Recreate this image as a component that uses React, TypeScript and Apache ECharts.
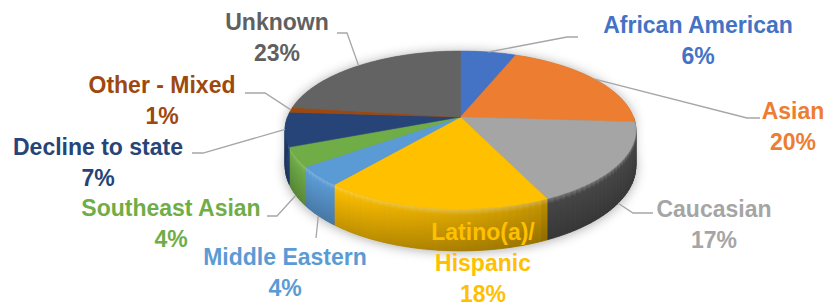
import React, { useEffect, useRef } from 'react';
import * as echarts from 'echarts';

// ---- data ----
const categories = [
  'African American',
  'Asian',
  'Caucasian',
  'Latino(a)/\nHispanic',
  'Middle Eastern',
  'Southeast Asian',
  'Decline to state',
  'Other - Mixed',
  'Unknown',
];
const values = [6, 20, 17, 18, 4, 4, 7, 1, 23];

// ---- styles ----
const colors = ['#4472C4', '#ED7D31', '#A5A5A5', '#FFC000', '#5B9BD5', '#70AD47', '#264478', '#9E480E', '#636363'];
const labelColors = ['#4472C4', '#ED7D31', '#A5A5A5', '#FFC000', '#5B9BD5', '#70AD47', '#264478', '#9E480E', '#606060'];

// ---- layout (3D projection of the pie) ----
const GEO = { cx: 460.5, cy: 117, r: 173, a: 57.6, c: -0.1646, t: 35 };
// label anchor (centre of first line) and leader-line bends
const LABEL_POS: [number, number][] = [
  [698, 25], [793, 111], [714, 209], [483, 232], [285, 257], [171, 208], [98, 147], [162, 85], [277, 22],
];
const LINE_GAP = 31;
const LEADERS: ([number, number][] | null)[] = [
  [[567, 37], [578, 37]],
  [[747, 118], [760, 118]],
  [[633, 213], [653, 213]],
  null,
  [[316, 238]],
  [[277, 216], [267, 216]],
  [[203, 153], [192, 153]],
  [[265, 93], [245, 93]],
  [[347, 33], [337, 33]],
];
// side lighting by angle (0 = back, 90 = right, 180 = front, 270 = left)
const LIGHT: [number, number][] = [[90, 0.42], [154, 0.42], [156, 0.76], [185, 0.86], [210, 0.95], [230, 1.0], [270, 0.95]];

const TOTAL = values.reduce((a, b) => a + b, 0);
const starts = values.map((_, i) => values.slice(0, i).reduce((a, b) => a + b, 0));

function proj(deg: number, bottom = false): [number, number] {
  const t = (deg * Math.PI) / 180;
  const u = Math.sin(t);
  const v = -Math.cos(t);
  const w = 1 + GEO.c * v;
  return [GEO.cx + (GEO.r * u) / w, (GEO.a * v + GEO.cy) / w + (bottom ? GEO.t / w : 0)];
}

function bright(deg: number): number {
  for (let k = 0; k < LIGHT.length - 1; k++) {
    const [x0, y0] = LIGHT[k];
    const [x1, y1] = LIGHT[k + 1];
    if (deg >= x0 && deg <= x1) return y0 + ((y1 - y0) * (deg - x0)) / (x1 - x0);
  }
  return 1;
}

function hexToRgb(h: string): number[] {
  const n = parseInt(h.slice(1), 16);
  return [(n >> 16) & 255, (n >> 8) & 255, n & 255];
}
function rgbStr(c: number[]): string {
  return `rgb(${c.map((x) => Math.max(0, Math.min(255, Math.round(x)))).join(',')})`;
}
function shade(c: number[], f: number): number[] {
  return c.map((x) => x * f);
}
function mixWhite(c: number[], f: number): number[] {
  return c.map((x) => x + (255 - x) * f);
}

const FONT = 'bold 23px "Liberation Sans", Arial, sans-serif';

export default function App() {
  const ref = useRef<HTMLDivElement>(null);

  useEffect(() => {
    if (!ref.current) return;
    const chart = echarts.init(ref.current, undefined, { renderer: 'svg' });

    const baseRender = () => {
      const pts: [number, number][] = [];
      for (let d = 270; d <= 450; d += 2) pts.push(proj(d));
      for (let d = 90; d <= 270; d += 2) pts.push(proj(d, true));
      return {
        type: 'polygon',
        shape: { points: pts },
        style: {
          fill: '#777',
          shadowBlur: 12,
          shadowColor: 'rgba(0,0,0,0.35)',
          shadowOffsetY: 1,
        },
      };
    };

    const renderItem = (params: any, api: any) => {
      const i = params.dataIndex;
      const val = api.value(0) as number;
      const st = api.value(1) as number;
      const a0 = (st / TOTAL) * 360;
      const a1 = ((st + val) / TOTAL) * 360;
      const rgb = hexToRgb(colors[i]);
      const children: any[] = [];

      // outer side wall (front half only)
      const s0 = Math.max(a0, 90);
      const s1 = Math.min(a1, 270);
      if (s1 > s0) {
        const n = Math.max(1, Math.ceil((s1 - s0) / 2));
        for (let k = 0; k < n; k++) {
          const t0 = s0 + ((s1 - s0) * k) / n;
          const t1 = s0 + ((s1 - s0) * (k + 1)) / n;
          const base = shade(rgb, bright((t0 + t1) / 2));
          const stops = [
            { offset: 0, color: rgbStr(mixWhite(base, 0.3)) },
            { offset: 0.15, color: rgbStr(base) },
            { offset: 1, color: rgbStr(shade(base, 0.78)) },
          ];
          children.push({
            type: 'polygon',
            shape: { points: [proj(t0), proj(t1), proj(t1, true), proj(t0, true)] },
            style: {
              fill: new echarts.graphic.LinearGradient(0, 0, 0, 1, stops),
              stroke: new echarts.graphic.LinearGradient(0, 0, 0, 1, stops),
              lineWidth: 0.8,
            },
          });
        }
      }

      // top face
      const pts: [number, number][] = [[GEO.cx, GEO.cy]];
      const steps = Math.max(2, Math.ceil(a1 - a0));
      for (let k = 0; k <= steps; k++) pts.push(proj(a0 + ((a1 - a0) * k) / steps));
      children.push({
        type: 'polygon',
        shape: { points: pts },
        style: { fill: colors[i], stroke: colors[i], lineWidth: 0.5 },
      });

      // leader line
      const lead = LEADERS[i];
      if (lead) {
        const mid = (a0 + a1) / 2;
        const start = proj(mid, mid > 100 && mid < 250);
        children.push({
          type: 'polyline',
          shape: { points: [start, ...lead] },
          style: { stroke: '#A6A6A6', lineWidth: 1.3, fill: null },
        });
      }

      // label
      const lines = [...categories[i].split('\n'), `${val}%`];
      const [lx, ly] = LABEL_POS[i];
      lines.forEach((txt, k) => {
        children.push({
          type: 'text',
          style: {
            text: txt,
            x: lx,
            y: ly + k * LINE_GAP,
            fill: labelColors[i],
            font: FONT,
            align: 'center',
            verticalAlign: 'middle',
          },
        });
      });

      return { type: 'group', children };
    };

    chart.setOption({
      animation: false,
      backgroundColor: '#ffffff',
      series: [
        {
          type: 'custom',
          coordinateSystem: 'none',
          silent: true,
          data: [[0]],
          renderItem: baseRender,
          z: 1,
        },
        {
          type: 'custom',
          name: 'Ethnicity',
          coordinateSystem: 'none',
          silent: true,
          data: values.map((v, i) => [v, starts[i]]),
          renderItem,
          z: 2,
        },
      ],
    });

    return () => chart.dispose();
  }, []);

  return (
    <div
      ref={ref}
      style={{ position: 'fixed', left: 0, top: 0, width: 825, height: 307, background: '#fff' }}
    />
  );
}
